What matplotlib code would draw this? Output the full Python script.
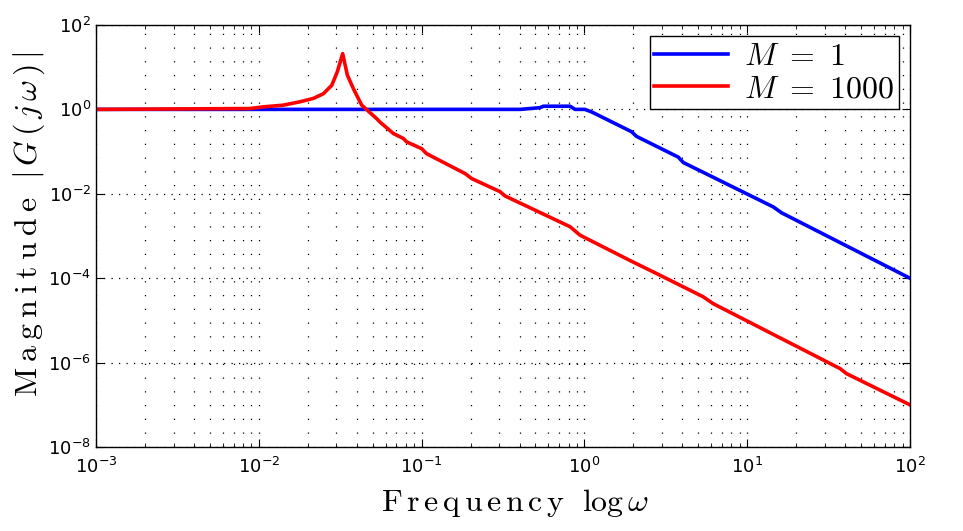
import numpy as np
import matplotlib
matplotlib.use("Agg")
import matplotlib.pyplot as plt
from matplotlib import ticker

# values (log10 of frequency and magnitude)
blue_logw = [-3.0, -1.0, -0.395, -0.273, -0.252, -0.088, -0.058, 0.003, 0.044,
             0.29, 0.32, 0.576, 0.608, 1.16, 1.211, 2.0]
blue_logmag = [0.0, 0.0, 0.0, 0.04, 0.075, 0.075, 0.0, 0.0, -0.06,
               -0.53, -0.64, -1.13, -1.26, -2.31, -2.45, -4.0]

red_logw = [-3.0, -2.054, -1.972, -1.85, -1.747, -1.665, -1.604, -1.552, -1.518,
            -1.485, -1.456, -1.419, -1.368, -1.276, -1.256, -1.174, -1.112, -1.092,
            -1.0, -0.969, -0.733, -0.692, -0.518, -0.488, -0.088, -0.027, 0.28,
            0.444, 0.73, 0.79, 1.57, 1.61, 2.0]
red_logmag = [0.0, 0.02, 0.06, 0.10, 0.18, 0.26, 0.37, 0.57, 0.89,
              1.32, 0.81, 0.49, 0.10, -0.22, -0.30, -0.57, -0.69, -0.77,
              -0.93, -1.05, -1.52, -1.64, -1.95, -2.05, -2.78, -2.98, -3.58,
              -3.89, -4.44, -4.60, -6.14, -6.26, -7.0]

labels = [r"$M\ =\ 1$", r"$M\ =\ 1000$"]

plt.rcParams["mathtext.fontset"] = "cm"
plt.rcParams["font.family"] = ["DejaVu Sans"]

fig = plt.figure(figsize=(9.63, 5.31), dpi=100)
ax = fig.add_axes([0.0997, 0.158, 0.8453, 0.795])

ax.loglog(10 ** np.array(blue_logw), 10 ** np.array(blue_logmag),
          color="#0000ff", lw=2.6, label=labels[0])
ax.loglog(10 ** np.array(red_logw), 10 ** np.array(red_logmag),
          color="#ff0000", lw=2.6, label=labels[1])

ax.set_xlim(1e-3, 1e2)
ax.set_ylim(1e-8, 1e2)
ax.set_yticks([1e-8, 1e-6, 1e-4, 1e-2, 1e0, 1e2])
ax.yaxis.set_minor_locator(ticker.NullLocator())

# matlab-like dotted grid: sparse dots vertically, denser on horizontal majors
ax.xaxis.grid(True, which="both", ls=(0, (1, 10)), color="black", lw=0.9)
ax.yaxis.grid(True, which="major", ls=(0, (1, 5)), color="black", lw=0.9)
ax.set_axisbelow(True)

ax.tick_params(which="both", direction="in", top=True, right=True, labelsize=13)
ax.tick_params(which="major", length=6)
ax.tick_params(which="minor", length=3)
ax.tick_params(axis="x", pad=7)
for s in ax.spines.values():
    s.set_linewidth(1.0)

ax.set_xlabel(r"$\mathrm{F\,r\,e\,q\,u\,e\,n\,c\,y}\ \ \log\omega$", fontsize=23)
ax.set_ylabel(r"$\mathrm{M\:a\:g\:n\:i\:t\:u\:d\:e}\ \ |\,G\,(\,j\,\omega\,)\,|$", fontsize=23)
ax.xaxis.set_label_coords(0.515, -0.095)
ax.yaxis.set_label_coords(-0.060, 0.528)

leg = ax.legend(loc="upper right", fontsize=23, fancybox=False, framealpha=1,
                edgecolor="black", borderpad=0.15, labelspacing=0.05,
                handlelength=2.3, handletextpad=0.5, borderaxespad=0.35)
leg.get_frame().set_linewidth(1.0)

fig.savefig("out.png", dpi=100)
